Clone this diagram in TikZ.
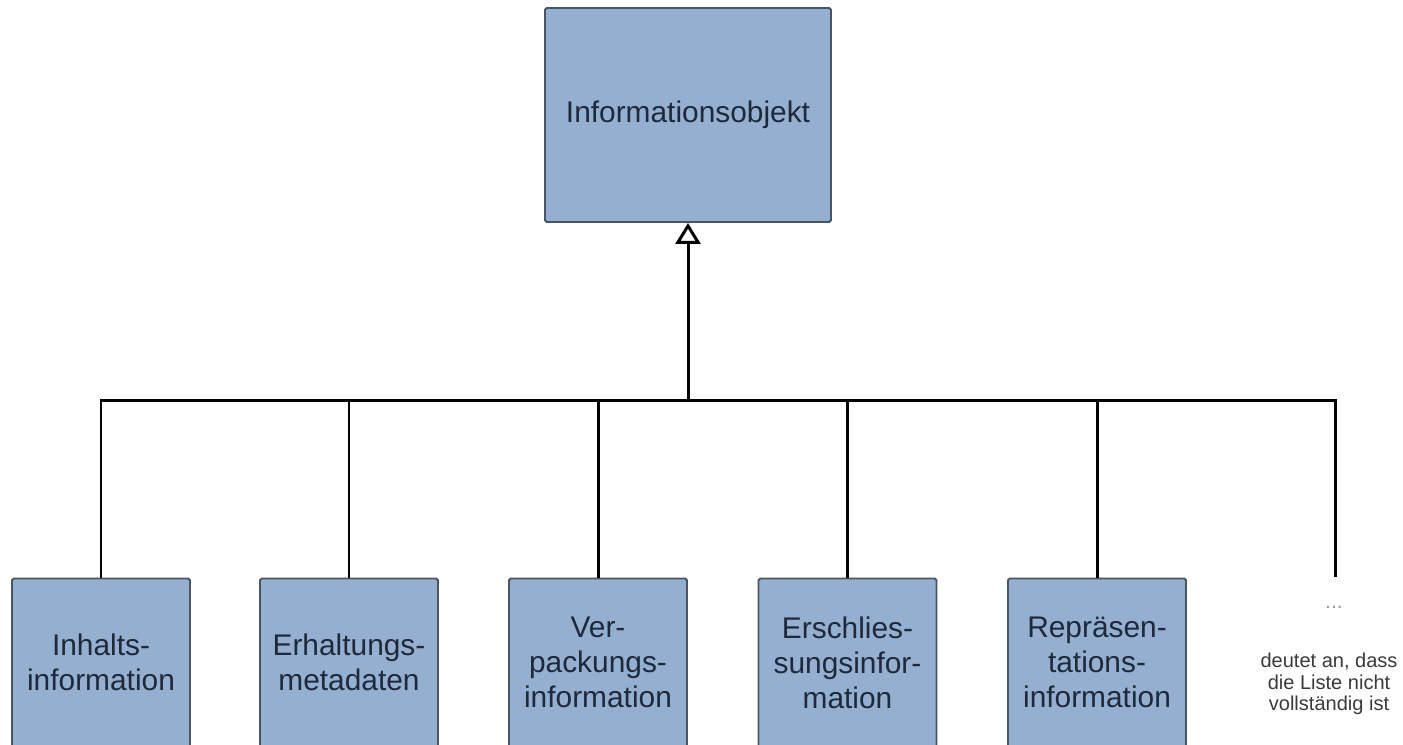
\documentclass[tikz,border=0pt]{standalone}
\usepackage{fontspec}
\setmainfont{Liberation Sans}
\usetikzlibrary{arrows.meta, calc, positioning}
\definecolor{boxblue}{HTML}{95AFD0}
\definecolor{boxedge}{HTML}{4A5563}
\definecolor{boxtext}{HTML}{1E2A3C}
\definecolor{notegray}{HTML}{3A3A3A}

\tikzset{
  klasse/.style={draw=boxedge, fill=boxblue, line width=1.1pt, rounded corners=1pt,
    inner sep=0pt, text=boxtext, align=center, font=\fontsize{17}{20}\selectfont},
  unterklasse/.style={klasse, minimum width=3.56cm, minimum height=4cm, anchor=north},
  klassentext/.style={text=boxtext, align=center, font=\fontsize{17}{20}\selectfont},
  verbindung/.style={line width=1.7pt},
}

\begin{document}
\begin{tikzpicture}
                    \clip (0,0) rectangle (28.06,-14.88);

                    %oberklasse
                    \node[klasse, minimum width=5.72cm, minimum height=4.28cm] (info) at (13.76,-2.30) {Informationsobjekt};

                    %unterklassen
                    \node[unterklasse] (inhalt) at (2.02,-11.55) {};
                    \node[unterklasse] (erhalt) at (6.98,-11.55) {};
                    \node[unterklasse] (verpack) at (11.96,-11.55) {};
                    \node[unterklasse] (erschl) at (16.95,-11.55) {};
                    \node[unterklasse] (repr) at (21.94,-11.55) {};

                    \node[klassentext] (inhalt-t) at (2.02,-13.25) {Inhalts-\\information};
                    \node[klassentext] (erhalt-t) at (6.98,-13.25) {Erhaltungs-\\metadaten};
                    \node[klassentext] (verpack-t) at (11.96,-13.25) {Ver-\\packungs-\\information};
                    \node[klassentext] (erschl-t) at (16.95,-13.25) {Erschlies-\\sungsinfor-\\mation};
                    \node[klassentext] (repr-t) at (21.94,-13.25) {Repräsen-\\tations-\\information};

                    %fortsetzung
                    \node[text=gray!80, font=\fontsize{12}{12}\selectfont] (punkte) at (26.68,-12.15) {...};
                    \node[text=notegray, align=center, font=\fontsize{11.4}{12.2}\selectfont] (hinweis) at (26.58,-13.68)
                        {deutet an, dass\\die Liste nicht\\vollständig ist};

                    %vererbung
                    \coordinate (bus) at (13.76,-8.0);
                    \coordinate (ende) at (26.70,-11.54);
                    \draw[verbindung, -{Triangle[open, length=0.42cm, width=0.5cm]}] (bus) -- (info.south);
                    \draw[verbindung] (inhalt.north) |- (bus -| ende) -- (ende);
                    \draw[verbindung] (erhalt.north) -- (erhalt.north |- bus);
                    \draw[verbindung] (verpack.north) -- (verpack.north |- bus);
                    \draw[verbindung] (erschl.north) -- (erschl.north |- bus);
                    \draw[verbindung] (repr.north) -- (repr.north |- bus);

\end{tikzpicture}
\end{document}
